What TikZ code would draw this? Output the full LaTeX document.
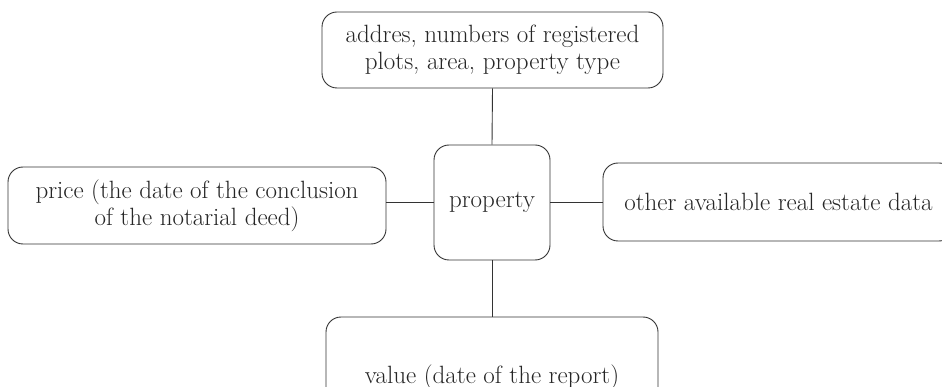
\documentclass[tikz,border=0pt]{standalone}
\usepackage{tikz}

\tikzset{
  infobox/.style={draw=black!80, line width=0.9pt, rounded corners=15pt,
    align=center, inner sep=0pt, font=\fontsize{25}{27}\selectfont, text=black!85},
  link/.style={draw=black!80, line width=0.9pt}
}

\begin{document}
\begin{tikzpicture}[x=1pt,y=-1pt]
% Frame of the picture
\useasboundingbox (0,0) rectangle (942,387);
\clip (0,0) rectangle (942,387);

% Boxes
\node[infobox, minimum width=116pt, minimum height=115pt] (prop) at (492,202.5)
  {property};
\node[infobox, minimum width=341pt, minimum height=76pt] (ident) at (492.5,50)
  {addres, numbers of registered\\plots, area, property type};
\node[infobox, minimum width=378pt, minimum height=77pt] (price) at (197,205.5)
  {price (the date of the conclusion\\of the notarial deed)};
\node[infobox, minimum width=351pt, minimum height=78pt] (other) at (778.5,202)
  {other available real estate data};
\node[infobox, minimum width=332pt, minimum height=120pt] (value) at (492,377)
  {value (date of the report)};

% Connectors
\draw[link] (prop.north) -- (ident.south);
\draw[link] (prop.south) -- (value.north);
\draw[link] (prop.west) -- (prop.west -| price.east);
\draw[link] (prop.east) -- (prop.east -| other.west);
\end{tikzpicture}
\end{document}
